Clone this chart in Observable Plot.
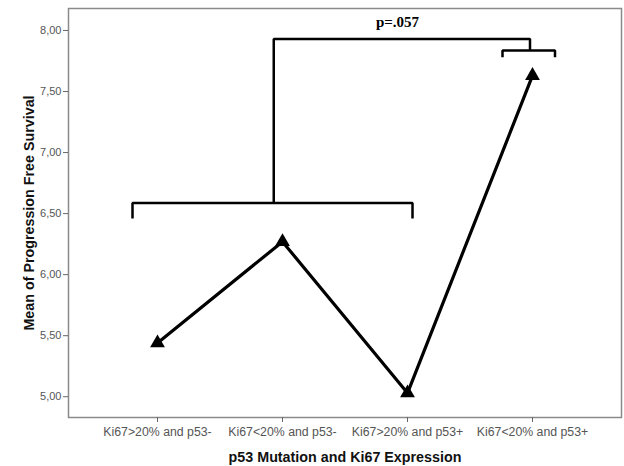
<!DOCTYPE html>
<html>
<head>
<meta charset="utf-8">
<script src="https://cdn.jsdelivr.net/npm/d3@7"></script>
<script src="https://cdn.jsdelivr.net/npm/@observablehq/plot@0.6"></script>
<style>
  html, body { margin: 0; padding: 0; background: #fff; }
  #chart svg { font-family: Arial, "Liberation Sans", sans-serif; }
  #chart g[aria-label="x-axis tick label"] text { fill: #555; font-size: 12.3px; }
  #chart g[aria-label="y-axis tick label"] text { fill: #555; font-size: 11px; }
  #chart g[aria-label="x-axis label"] text,
  #chart g[aria-label="y-axis label"] text { font-weight: bold; font-size: 14.3px; fill: #111; }
</style>
</head>
<body>
<div id="chart"></div>
<script>
const categories = ["Ki67>20% and p53-", "Ki67<20% and p53-", "Ki67>20% and p53+", "Ki67<20% and p53+"];
const means = [5.44, 6.27, 5.03, 7.63];
const yTicks = [5, 5.5, 6, 6.5, 7, 7.5, 8];
const pLabel = "p=.057";

// significance brackets (annotation, in data units: category index / mean PFS)
const bracketGroup = ["low", "low", "low", "low", "stem", "stem", "stem", "stem", "high", "high", "high", "high"];
const bracketX = [-0.2, -0.2, 2.04, 2.04, 0.93, 0.93, 2.98, 2.98, 2.76, 2.76, 3.18, 3.18];
const bracketY = [6.46, 6.586, 6.586, 6.46, 6.586, 7.93, 7.93, 7.835, 7.78, 7.835, 7.835, 7.78];
const pX = [1.92];
const pY = [8.07];

const points = categories.map((c, i) => ({i, c, v: means[i]}));
const brackets = bracketX.map((x, k) => ({g: bracketGroup[k], x, y: bracketY[k]}));

const fmt = d => d.toFixed(2).replace(".", ",");

const chart = Plot.plot({
  width: 624,
  height: 466,
  marginTop: 8,
  marginBottom: 49,
  marginLeft: 68,
  marginRight: 3,
  style: {fontSize: "10.5px", background: "#fff"},
  x: {domain: [-0.712, 3.712]},
  y: {domain: [4.83, 8.18]},
  marks: [
    Plot.frame({stroke: "#8a8a8a", strokeWidth: 1.5}),
    Plot.axisY({ticks: yTicks, tickFormat: fmt, tickSize: 5, tickPadding: 2, stroke: "#666",
      label: "Mean of Progression Free Survival", labelAnchor: "center", labelArrow: "none", labelOffset: 45}),
    Plot.axisX({ticks: [0, 1, 2, 3], tickFormat: i => categories[i], tickSize: 5, tickPadding: 5, stroke: "#666",
      label: "p53 Mutation and Ki67 Expression", labelAnchor: "center", labelArrow: "none", labelOffset: 44}),
    Plot.line(brackets, {x: "x", y: "y", z: "g", stroke: "#000", strokeWidth: 2.5, strokeLinejoin: "miter", strokeLinecap: "butt"}),
    Plot.line(points, {x: "i", y: "v", stroke: "#000", strokeWidth: 3.2}),
    Plot.dot(points, {x: "i", y: "v", symbol: "triangle", r: 5.5, fill: "#000"}),
    Plot.text(pX.map((x, k) => ({x, y: pY[k], t: pLabel})), {x: "x", y: "y", text: "t",
      fontFamily: "'Liberation Serif', 'Times New Roman', serif", fontWeight: "bold", fontSize: 15, fill: "#000"})
  ]
});
document.getElementById("chart").append(chart);
</script>
</body>
</html>
